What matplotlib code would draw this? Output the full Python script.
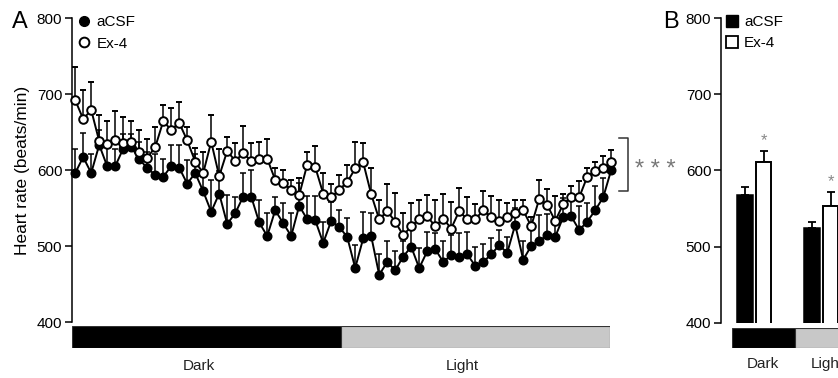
import numpy as np
import matplotlib.pyplot as plt
from matplotlib.lines import Line2D
from matplotlib.patches import Patch

plt.rcParams['font.family'] = ['Liberation Sans', 'DejaVu Sans']
plt.rcParams['axes.linewidth'] = 1.1

# panel A: heart rate over 24 h, 68 bins (34 dark, 34 light)
acsf_mean = [596, 617, 596, 633, 605, 605, 628, 630, 615, 602, 594, 591, 605, 603, 582, 596, 572,
             545, 569, 529, 543, 565, 565, 531, 513, 547, 530, 513, 553, 535, 534, 504, 533, 525,
             512, 471, 510, 513, 462, 479, 468, 486, 499, 471, 493, 496, 479, 488, 486, 489, 474,
             479, 489, 501, 491, 528, 482, 500, 507, 514, 512, 538, 539, 521, 532, 547, 564, 600]
acsf_sem = [31, 32, 25, 20, 25, 22, 20, 18, 22, 22, 27, 24, 28, 30, 31, 25, 25,
            42, 30, 38, 22, 31, 35, 29, 30, 18, 26, 31, 30, 31, 32, 27, 25, 22,
            25, 30, 35, 30, 28, 28, 25, 20, 25, 26, 26, 21, 27, 27, 31, 29, 25,
            24, 21, 20, 21, 22, 25, 28, 34, 28, 25, 25, 25, 31, 24, 32, 25, 15]
ex4_mean = [692, 667, 679, 638, 634, 639, 636, 637, 624, 616, 630, 664, 653, 662, 639, 611, 596,
            637, 592, 625, 612, 622, 612, 615, 615, 587, 583, 574, 567, 607, 604, 569, 564, 574,
            584, 602, 610, 568, 535, 546, 532, 514, 526, 535, 539, 526, 536, 523, 546, 535, 535,
            547, 538, 533, 538, 544, 547, 526, 562, 554, 533, 555, 564, 564, 591, 599, 602, 610]
ex4_sem = [44, 38, 37, 35, 30, 38, 34, 27, 29, 25, 27, 22, 28, 28, 18, 18, 28,
           35, 35, 18, 23, 36, 23, 22, 26, 15, 17, 13, 23, 17, 27, 27, 18, 19,
           22, 35, 26, 34, 26, 36, 38, 29, 31, 26, 28, 34, 32, 35, 30, 30, 20,
           26, 28, 27, 19, 16, 14, 12, 25, 21, 33, 13, 15, 21, 11, 12, 16, 16]

# panel B: phase averages
phases = ['Dark', 'Light']
bar_acsf = [568, 525]
bar_acsf_sem = [10, 8]
bar_ex4 = [611, 554]
bar_ex4_sem = [14, 18]

W, H = 838, 378
fig = plt.figure(figsize=(W / 100, H / 100), dpi=100)


def frac(x0, y0, x1, y1):
    # pixel box (top-left origin) -> figure fraction
    return [x0 / W, 1 - y1 / H, (x1 - x0) / W, (y1 - y0) / H]


def style_y(ax):
    ax.set_ylim(400, 800)
    ax.set_yticks([400, 500, 600, 700, 800])
    ax.tick_params(axis='y', length=5, width=1.1, labelsize=11, pad=2)
    ax.tick_params(axis='x', bottom=False, labelbottom=False)
    for s in ['top', 'right', 'bottom']:
        ax.spines[s].set_visible(False)


def phase_strip(box, label_pos):
    s = fig.add_axes(frac(*box))
    s.barh(0, 1, left=0, height=1, color='black', edgecolor='#333333', linewidth=0.8)
    s.barh(0, 1, left=1, height=1, color='#c8c8c8', edgecolor='#333333', linewidth=0.8)
    s.set_xlim(0, 2)
    s.set_ylim(-0.5, 0.5)
    s.axis('off')
    for name, xp in zip(phases, label_pos):
        s.text(xp, -1.3, name, ha='center', va='center', fontsize=11, color='#222222')
    return s


# ---- panel A ----
axA = fig.add_axes(frac(72, 18, 612, 322))
x = np.arange(len(acsf_mean))
zeros = np.zeros(len(x))
axA.errorbar(x, acsf_mean, yerr=[zeros, acsf_sem], fmt='o-', color='black', ms=6.2,
             mfc='black', mec='black', lw=1.4, elinewidth=1.1, capsize=2.5, capthick=1.1,
             clip_on=False, zorder=2)
axA.errorbar(x, ex4_mean, yerr=[zeros, ex4_sem], fmt='o-', color='black', ms=6.2,
             mfc='white', mec='black', mew=1.4, lw=1.4, elinewidth=1.1, capsize=2.5,
             capthick=1.1, clip_on=False, zorder=3)
axA.set_xlim(-0.4, 67.1)
style_y(axA)
axA.set_ylabel('Heart rate (beats/min)', fontsize=12.5, labelpad=5)

handles = [Line2D([], [], ls='none', marker='o', ms=7, mfc='black', mec='black'),
           Line2D([], [], ls='none', marker='o', ms=7, mfc='white', mec='black', mew=1.4)]
axA.legend(handles, ['aCSF', 'Ex-4'], loc='upper left', bbox_to_anchor=(-0.012, 1.04),
           frameon=False, fontsize=11, handletextpad=0.25, handlelength=1.2,
           labelspacing=0.5, borderaxespad=0.2)

# significance bracket next to panel A
axA.plot([1.013, 1.03, 1.03, 1.013], [0.606, 0.606, 0.432, 0.432], color='#333333',
         lw=1.1, transform=axA.transAxes, clip_on=False)
axA.text(1.042, 0.50, '* * *', transform=axA.transAxes, fontsize=17, color='#777777',
         ha='left', va='center')

phase_strip((72, 326, 610, 348), [0.47, 1.45])
fig.text(12 / W, 1 - 22 / H, 'A', fontsize=17, ha='left', va='center')

# ---- panel B ----
axB = fig.add_axes(frac(721, 18, 871, 323))
centers = np.array([33, 100])
off = 9.5
axB.bar(centers - off, bar_acsf, width=16, color='black', edgecolor='black',
        lw=1.1, zorder=2)
axB.bar(centers + off, bar_ex4, width=15, color='white', edgecolor='black', lw=1.4, zorder=2)
axB.errorbar(centers - off, bar_acsf, yerr=[[0, 0], bar_acsf_sem], fmt='none',
             ecolor='black', elinewidth=1.3, capsize=3, capthick=1.3, zorder=1)
axB.errorbar(centers + off, bar_ex4, yerr=[[0, 0], bar_ex4_sem], fmt='none',
             ecolor='black', elinewidth=1.3, capsize=3, capthick=1.3, zorder=1)
for c, m, e in zip(centers, bar_ex4, bar_ex4_sem):
    axB.text(c + off, m + e + 14, '*', ha='center', va='center', fontsize=12,
             color='#888888')
axB.set_xlim(0, 150)
style_y(axB)
axB.legend([Patch(facecolor='black', edgecolor='black'),
            Patch(facecolor='white', edgecolor='black', lw=1.3)], ['aCSF', 'Ex-4'],
           loc='upper left', bbox_to_anchor=(-0.03, 1.04), frameon=False, fontsize=11,
           handletextpad=0.4, handlelength=0.8, handleheight=0.8, labelspacing=0.45,
           borderaxespad=0.2)

phase_strip((732, 328, 858, 348), [0.49, 1.52])
fig.text(663 / W, 1 - 22 / H, 'B', fontsize=17, ha='left', va='center')

fig.savefig('out.png', dpi=100)
